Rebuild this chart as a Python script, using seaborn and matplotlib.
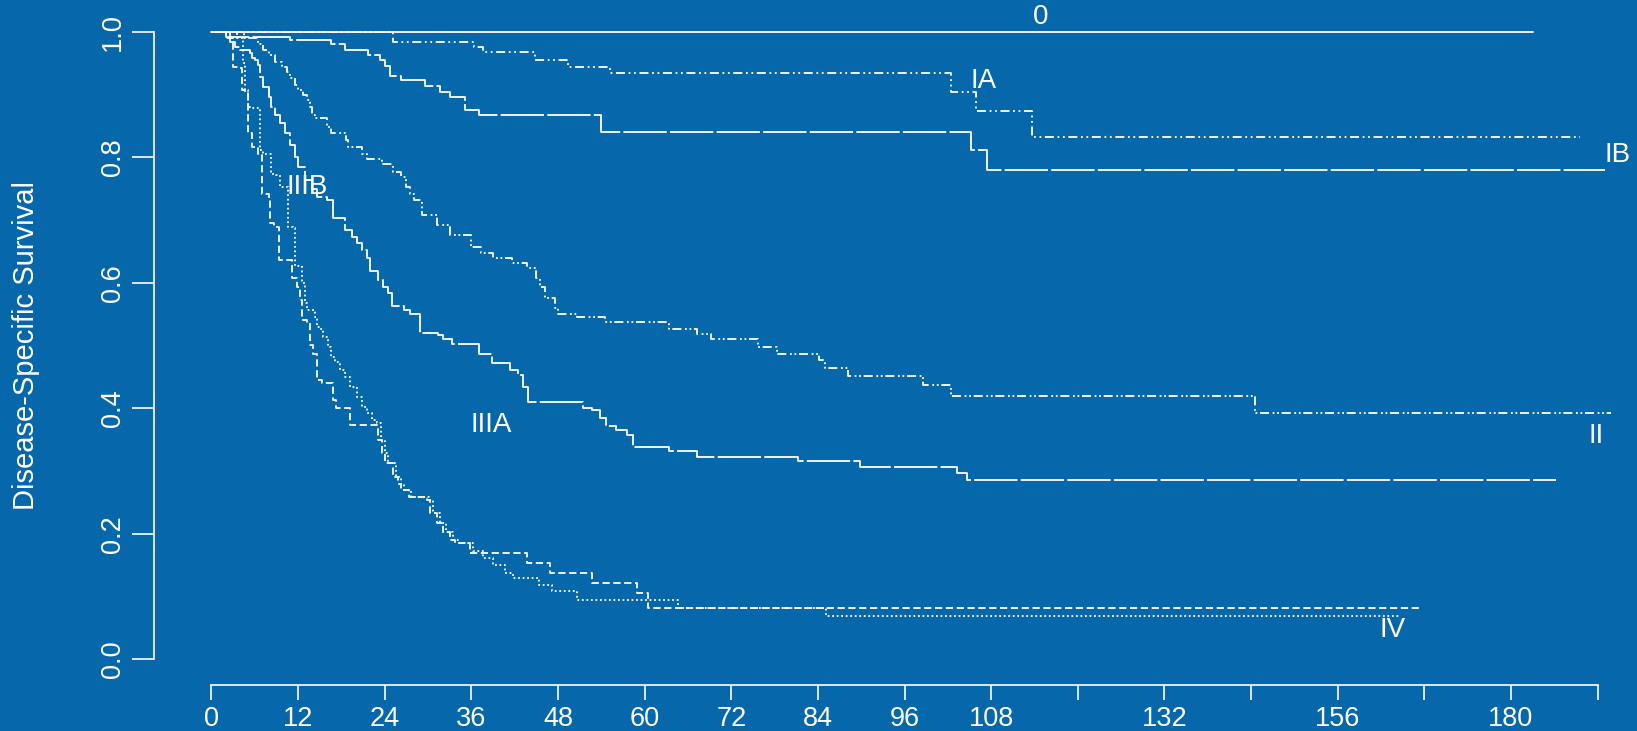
import numpy as np
import pandas as pd
import seaborn as sns
import matplotlib
matplotlib.use("Agg")
import matplotlib.pyplot as plt

# survival step functions (months, survival)
t_0 = [0, 183]
s_0 = [1.0, 1.0]

t_IA = [0, 25.2, 36.3, 37.6, 44.8, 49.4, 55.2, 102.4, 105.9, 113.6, 189.5]
s_IA = [1.0, 0.983, 0.976, 0.967, 0.955, 0.944, 0.934, 0.904, 0.873, 0.833, 0.833]

t_IB = [0, 2.0, 10.9, 16.6, 18.5, 21.7, 23.3, 24.0, 24.7, 26.3, 29.6, 31.6, 33.1,
        35.1, 37.0, 54.0, 105.2, 107.4, 193.0]
s_IB = [1.0, 0.992, 0.987, 0.980, 0.971, 0.963, 0.955, 0.945, 0.929, 0.923, 0.913,
        0.904, 0.896, 0.876, 0.867, 0.841, 0.811, 0.780, 0.780]

t_II = [0, 4.5, 6.5, 7.2, 7.9, 8.8, 9.7, 10.4, 10.9, 11.6, 12.0, 12.7, 13.2, 13.6,
        13.9, 14.3, 16.0, 16.6, 18.7, 18.9, 20.8, 21.5, 23.6, 25.2, 26.3, 27.0, 27.5,
        28.0, 29.1, 31.2, 33.0, 36.0, 37.4, 39.0, 41.6, 43.7, 45.0, 45.5, 46.2, 47.6,
        48.0, 50.6, 54.5, 63.4, 67.3, 69.2, 75.7, 78.4, 84.1, 85.0, 88.2, 98.5, 102.4,
        144.6, 193.9]
s_II = [1.0, 0.99, 0.981, 0.971, 0.963, 0.952, 0.944, 0.936, 0.926, 0.915, 0.907,
        0.899, 0.891, 0.880, 0.867, 0.862, 0.849, 0.838, 0.827, 0.817, 0.806, 0.798,
        0.790, 0.777, 0.769, 0.753, 0.742, 0.732, 0.708, 0.692, 0.676, 0.657, 0.647,
        0.640, 0.631, 0.623, 0.607, 0.594, 0.575, 0.559, 0.551, 0.545, 0.537, 0.527,
        0.519, 0.510, 0.498, 0.487, 0.477, 0.464, 0.451, 0.437, 0.419, 0.392, 0.392]

t_IIIA = [0, 2.6, 3.3, 3.9, 5.3, 5.6, 6.0, 6.5, 6.7, 7.2, 7.9, 8.3, 8.8, 9.5, 10.2,
          10.9, 11.6, 12.0, 13.0, 13.9, 14.6, 16.0, 16.9, 18.5, 19.4, 20.1, 20.8, 21.5,
          22.0, 23.1, 23.8, 24.5, 25.0, 26.6, 27.5, 28.9, 31.4, 32.1, 33.3, 37.0, 38.8,
          41.3, 42.5, 43.2, 43.9, 51.5, 52.7, 53.8, 54.7, 56.1, 57.5, 58.4, 63.4, 67.2,
          81.2, 89.9, 103.3, 104.6, 186.2]
s_IIIA = [1.0, 0.984, 0.976, 0.971, 0.966, 0.958, 0.955, 0.947, 0.928, 0.912, 0.896,
          0.880, 0.867, 0.854, 0.838, 0.819, 0.801, 0.785, 0.764, 0.750, 0.737, 0.732,
          0.703, 0.684, 0.673, 0.663, 0.652, 0.639, 0.618, 0.604, 0.594, 0.583, 0.563,
          0.557, 0.551, 0.520, 0.517, 0.510, 0.503, 0.487, 0.472, 0.461, 0.453, 0.434,
          0.410, 0.400, 0.397, 0.384, 0.371, 0.365, 0.357, 0.338, 0.332, 0.323, 0.316,
          0.307, 0.297, 0.286, 0.286]

t_IIIB = [0, 2.0, 3.0, 3.7, 4.2, 4.6, 5.1, 5.6, 6.5, 7.0, 7.9, 8.1, 8.6, 9.3, 11.2,
          11.8, 12.3, 12.5, 13.2, 13.6, 14.1, 14.6, 15.3, 16.8, 17.3, 19.2, 23.1, 23.6,
          24.0, 25.2, 25.9, 26.3, 27.3, 29.8, 30.3, 31.2, 32.1, 33.0, 33.7, 35.8, 43.7,
          46.9, 52.7, 59.0, 60.5, 167.2]
s_IIIB = [1.0, 0.99, 0.944, 0.942, 0.907, 0.904, 0.838, 0.817, 0.806, 0.742, 0.732,
          0.695, 0.689, 0.636, 0.607, 0.594, 0.572, 0.541, 0.538, 0.501, 0.487, 0.445,
          0.441, 0.413, 0.400, 0.373, 0.349, 0.328, 0.312, 0.291, 0.280, 0.270, 0.259,
          0.254, 0.233, 0.217, 0.203, 0.190, 0.185, 0.169, 0.153, 0.137, 0.121, 0.105,
          0.082, 0.082]

t_IV = [0, 3.5, 4.4, 4.6, 5.1, 5.6, 6.7, 7.2, 8.3, 9.0, 9.5, 10.6, 11.3, 11.6, 12.5,
        13.0, 13.2, 14.3, 14.6, 15.0, 15.5, 16.2, 16.6, 17.1, 17.8, 18.5, 19.2, 20.1,
        20.8, 21.5, 22.2, 22.9, 23.5, 24.0, 24.4, 25.6, 26.3, 26.7, 27.7, 30.2, 30.7,
        31.6, 32.5, 33.4, 34.1, 36.2, 37.6, 39.0, 40.7, 41.8, 45.3, 47.1, 50.6, 64.6,
        85.1, 164.5]
s_IV = [1.0, 0.99, 0.950, 0.907, 0.880, 0.878, 0.811, 0.806, 0.774, 0.772, 0.753,
        0.689, 0.687, 0.626, 0.599, 0.567, 0.557, 0.546, 0.530, 0.527, 0.514, 0.498,
        0.482, 0.474, 0.461, 0.450, 0.434, 0.418, 0.402, 0.392, 0.381, 0.376, 0.349,
        0.328, 0.312, 0.291, 0.280, 0.270, 0.259, 0.254, 0.233, 0.217, 0.203, 0.190,
        0.185, 0.172, 0.161, 0.150, 0.137, 0.129, 0.118, 0.108, 0.095, 0.082, 0.069,
        0.069]

stages = ["0", "IA", "IB", "II", "IIIA", "IIIB", "IV"]
times = [t_0, t_IA, t_IB, t_II, t_IIIA, t_IIIB, t_IV]
survs = [s_0, s_IA, s_IB, s_II, s_IIIA, s_IIIB, s_IV]

# where the stage names sit (month, survival)
label_x = [114.8, 107.0, 194.7, 191.8, 38.8, 13.2, 163.6]
label_y = [1.024, 0.922, 0.803, 0.356, 0.373, 0.753, 0.047]

x_ticks = list(range(0, 193, 12))
x_ticklabels = ["0", "12", "24", "36", "48", "60", "72", "84", "96", "108", "",
                "132", "", "156", "", "180", ""]
y_ticks = [0.0, 0.2, 0.4, 0.6, 0.8, 1.0]

line_styles = {
    "0": "-",
    "IA": (0, (5, 2, 1, 2, 1, 2)),
    "IB": (0, (24, 1.8)),
    "II": (0, (5, 2, 1, 1.5, 1, 1.5)),
    "IIIA": (0, (24, 1.8)),
    "IIIB": (0, (4, 2)),
    "IV": (0, (1, 1.5)),
}

df = pd.concat([pd.DataFrame({"month": t, "surv": s, "stage": g})
                for g, t, s in zip(stages, times, survs)], ignore_index=True)

bg = "#0667AB"
sns.set_theme(style="ticks")
plt.rcParams["font.family"] = ["Liberation Sans", "DejaVu Sans"]
plt.rcParams["axes.linewidth"] = 1.2

fig = plt.figure(figsize=(16.37, 7.31), dpi=100, facecolor=bg)
ax = fig.add_axes([0.09377, 0.0629, 0.9020, 0.9302], facecolor=bg)

for g in stages:
    sub = df[df["stage"] == g]
    sns.lineplot(data=sub, x="month", y="surv", estimator=None, sort=False,
                 drawstyle="steps-post", color="white", lw=1.3,
                 linestyle=line_styles[g], ax=ax)

for g, lx, ly in zip(stages, label_x, label_y):
    ax.text(lx, ly, g, color="white", fontsize=20, ha="center", va="center",
            clip_on=False)

ax.set_xlim(-8.03, 196.5)
ax.set_ylim(-0.0411, 1.0426)
ax.set_xticks(x_ticks)
ax.set_xticklabels(x_ticklabels)
ax.set_yticks(y_ticks)
ax.set_yticklabels([f"{v:.1f}" for v in y_ticks], rotation=90, va="center")

for side in ["top", "right"]:
    ax.spines[side].set_visible(False)
for side in ["left", "bottom"]:
    ax.spines[side].set_color("white")
ax.spines["left"].set_bounds(0, 1)
ax.spines["bottom"].set_bounds(0, 192)

ax.tick_params(axis="x", colors="white", labelsize=19.5, length=11, width=1.2, pad=4)
ax.tick_params(axis="y", colors="white", labelsize=19.5, length=16, width=1.2, pad=4)

ax.set_xlabel("")
ax.set_ylabel("Disease-Specific Survival", color="white", fontsize=21)
ax.yaxis.set_label_coords(-0.077, 0.5)

fig.savefig("out.png", dpi=100, facecolor=bg)
